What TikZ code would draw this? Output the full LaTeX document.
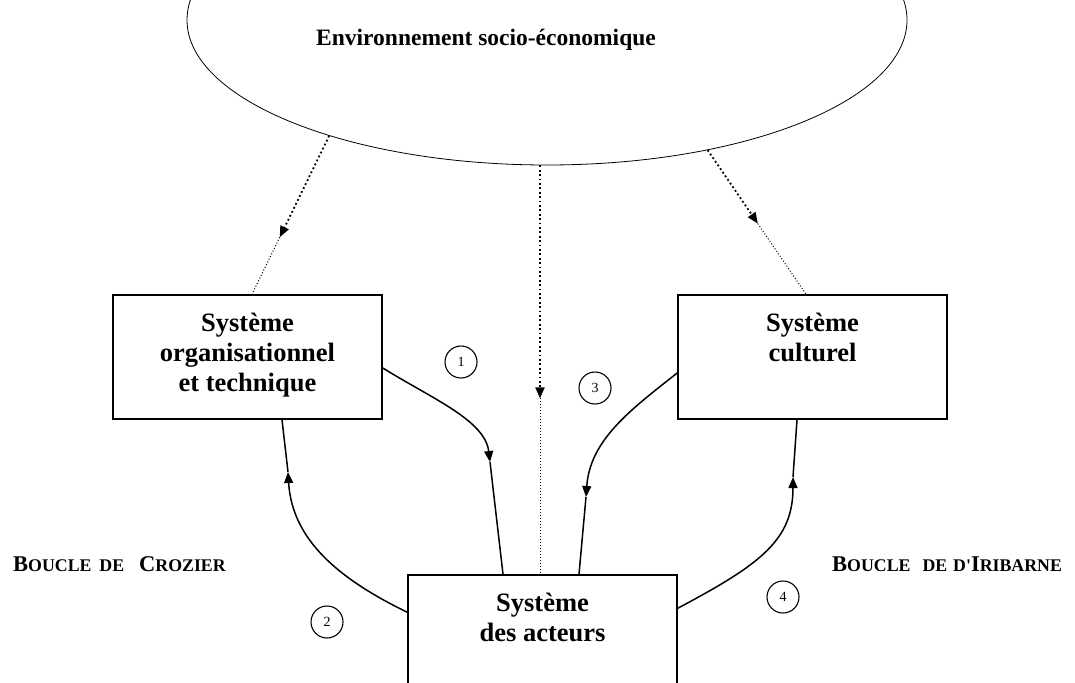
\documentclass[tikz,border=0pt]{standalone}
\usepackage{fontspec}
\setmainfont{Liberation Serif}
\usepackage{tikz}
\usetikzlibrary{shapes.geometric, positioning, calc, arrows.meta}

\newcommand{\fakesc}[2]{{\fontsize{22.5}{22.5}\selectfont #1}{\fontsize{17.8}{22.5}\selectfont #2}}

\begin{document}
\begin{tikzpicture}[x=1pt, y=-1pt, >={Triangle[length=11pt, width=9pt]},
    sysbox/.style={draw, line width=1.6pt, minimum width=269pt, minimum height=124pt, inner sep=0pt},
    systext/.style={align=center, inner sep=0pt, font=\fontsize{26.5}{30}\selectfont\bfseries},
    numcirc/.style={circle, draw, line width=1.1pt, minimum size=32pt, inner sep=0pt, font=\fontsize{14}{14}\selectfont},
    looplabel/.style={anchor=base west, inner sep=0pt, font=\bfseries},
    flow/.style={line width=1.5pt},
    thickdots/.style={line width=1.8pt, dash pattern=on 1.8pt off 2.6pt},
    thindots/.style={line width=1pt, dash pattern=on 1pt off 2pt}]

  \clip (0,0) rectangle (1075,682);

  \node[ellipse, draw, line width=0.8pt, minimum width=720pt, minimum height=290pt, inner sep=0pt] (env) at (547,20) {};
  \node[anchor=base, inner sep=0pt, font=\fontsize{23.5}{28}\selectfont\bfseries] (envtext) at (486,46) {Environnement socio-économique};

  \node[sysbox] (org)  at (247.5,357) {};
  \node[sysbox] (cult) at (812.5,357) {};
  \node[sysbox, minimum height=140pt] (act) at (542.5,645) {};

  \node[systext, below=18.5pt of org.north]  (orgtext)  {Système\\organisationnel\\et technique};
  \node[systext, below=18.5pt of cult.north] (culttext) {Système\\culturel};
  \node[systext, below=18.5pt of act.north]  (acttext)  {Système\\des acteurs};

  \node[numcirc] (n1) at (461,362) {1};
  \node[numcirc] (n2) at (327,622) {2};
  \node[numcirc] (n3) at (595,388) {3};
  \node[numcirc] (n4) at (783,597) {4};

  \node[looplabel] (crozier) at (13,571)
    {\fakesc{B}{OUCLE}\hspace{8pt}\fakesc{}{DE}\hspace{15pt}\fakesc{C}{ROZIER}};
  \node[looplabel] (iribarne) at (832,571)
    {\fakesc{B}{OUCLE}\hspace{12pt}\fakesc{}{DE}\hspace{6pt}\fakesc{}{D\textquotesingle}\fakesc{I}{RIBARNE}};

  % influences de l'environnement
  \coordinate (tipL) at ($(env.208)!0.64!([xshift=4.5pt]org.north)$);
  \coordinate (tipR) at ($(env.321)!0.51!([xshift=-6.5pt]cult.north)$);
  \coordinate (top)  at ([xshift=-2.5pt]act.north |- env.south);
  \coordinate (tipC) at ($(top)!0.57!([xshift=-2.5pt]act.north)$);
  \draw[thickdots, ->] (env.208) -- (tipL);
  \draw[thindots] (tipL) -- ([xshift=4.5pt]org.north);
  \draw[thickdots, ->] (env.321) -- (tipR);
  \draw[thindots] (tipR) -- ([xshift=-6.5pt]cult.north);
  \draw[thickdots, ->] (top) -- (tipC);
  \draw[thindots] (tipC) -- ([xshift=-2.5pt]act.north);

  % les deux boucles
  \coordinate (tip1) at (490,462);
  \coordinate (tip2) at (288,472);
  \coordinate (tip3) at (586,497);
  \coordinate (tip4) at (793,477);
  \draw[flow, ->] ([yshift=-11pt]org.east) .. controls +(48,30) and +(-5,-42) .. (tip1);
  \draw[flow] (tip1) -- ([xshift=-39.5pt]act.north);
  \draw[flow, ->] ([yshift=-38pt]act.north west) .. controls +(-68,-33) and +(4,68) .. (tip2);
  \draw[flow] (tip2) -- ([xshift=34.5pt]org.south);
  \draw[flow, ->] ([yshift=-16pt]cult.west) .. controls +(-47,37) and +(4,-57) .. (tip3);
  \draw[flow] (tip3) -- ([xshift=36.5pt]act.north);
  \draw[flow, ->] ([yshift=-34pt]act.north east) .. controls +(83,-44) and +(0,63) .. (tip4);
  \draw[flow] (tip4) -- ([xshift=-15.5pt]cult.south);
\end{tikzpicture}
\end{document}
